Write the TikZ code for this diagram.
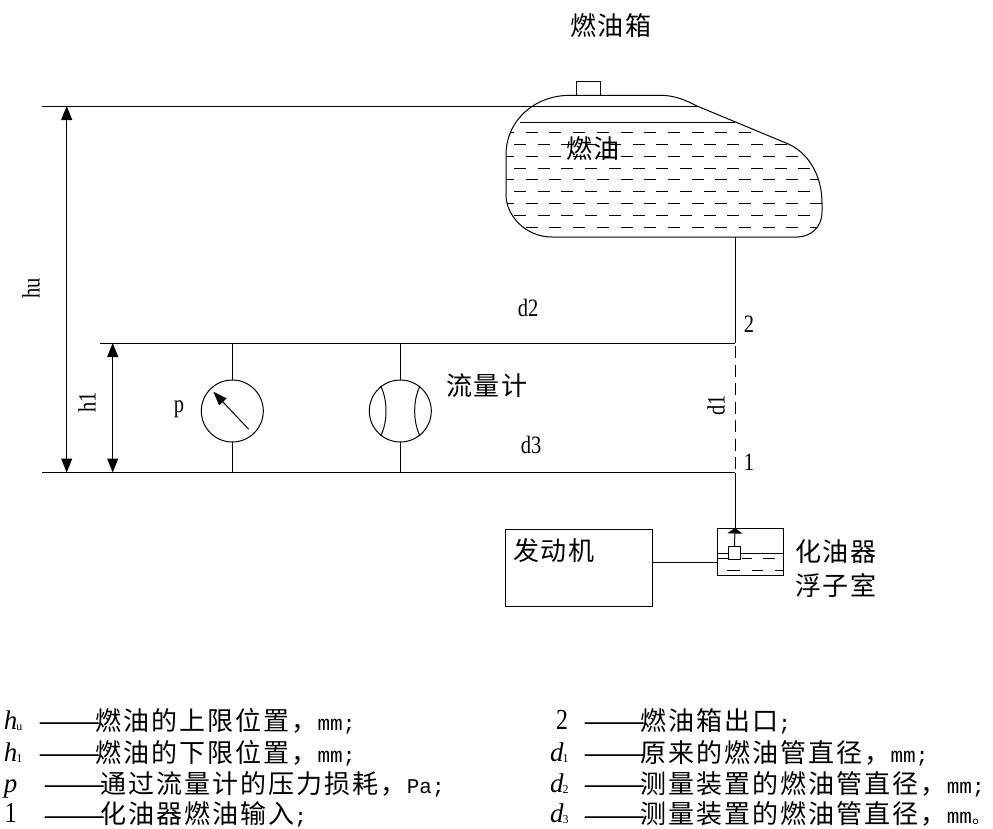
\documentclass[tikz,border=0pt]{standalone}
\usepackage{graphicx}
\usepackage{fontspec}
\setmainfont{Liberation Serif}
\newfontfamily\cjk[LetterSpace=4]{Noto Sans CJK SC}
\newfontfamily\cjkd{Noto Sans CJK SC}
\newfontfamily\cjksp[LetterSpace=8]{Noto Sans CJK SC}
\newfontfamily\hw{Liberation Mono}
\usetikzlibrary{arrows.meta}
\newcommand{\lbl}[1]{{\cjk\fontsize{26}{26}\selectfont #1}}
\newcommand{\lbls}[1]{{\cjksp\fontsize{26}{26}\selectfont #1}}
\newcommand{\ltn}[1]{\scalebox{.82}[1]{\fontsize{25}{25}\selectfont #1}}
\newcommand{\unt}[1]{{\hw\fontsize{21}{21}\selectfont #1}}
\newcommand{\dsh}{\raisebox{-2pt}{\scalebox{1.33}[1]{\cjkd\fontsize{28}{28}\selectfont ——}}}
\newcommand{\symb}[2]{{\fontsize{27}{27}\selectfont\itshape #1}{\kern-1pt\raisebox{-1pt}{\fontsize{12}{12}\selectfont #2}}}
\newcommand{\dig}[1]{\scalebox{.82}[1]{\fontsize{29}{29}\selectfont #1}}
\tikzset{
  base/.style={line width=1pt,black},
  lab/.style={inner sep=0pt,outer sep=0pt},
  leg/.style={inner sep=0pt,outer sep=0pt,anchor=base west},
  dim/.style={base,{Triangle[length=14pt,width=11pt]}-{Triangle[length=14pt,width=11pt]}},
  meter/.style={base,circle,draw,minimum size=62pt,inner sep=0pt,outer sep=0pt},
  boxx/.style={base,rectangle,draw,inner sep=0pt,outer sep=0pt},
  fuel/.style={line width=1pt,dash pattern=on 12pt off 11.7pt}
}
\begin{document}
\begin{tikzpicture}[x=1pt,y=-1pt]
\useasboundingbox (0,0) rectangle (993,828);
% tank
\def\tankpath{(570,95.3) -- (660,95.3) .. controls (675,95.3) and (685,100) .. (697,106) -- (786.7,143.3) .. controls (808,152) and (822,175) .. (822,203) -- (822,212) .. controls (822,228) and (810,237) .. (796.7,237) -- (552,237) .. controls (525,237) and (506,215) .. (506,195) -- (506,155) .. controls (506,120) and (535,95.3) .. (570,95.3) -- cycle}
\begin{scope}
\clip \tankpath;
\foreach \y in {132,156,179.5,203.3,227}{\draw[fuel] (478.3,\y) -- (830,\y);}
\foreach \y in {144,168,191.3,215}{\draw[fuel] (490.3,\y) -- (830,\y);}
\end{scope}
\draw[base] \tankpath;
\node[boxx,minimum width=24pt,minimum height=13.5pt] (cap) at (588,88.3) {};
% named points
\coordinate (topL) at (42,106);
\coordinate (topR) at (697,106);
\coordinate (fuelL) at (520,122);
\coordinate (fuelR) at (735,122);
\coordinate (d2L) at (100,343);
\coordinate (d2R) at (735,343);
\coordinate (d3L) at (42,472.5);
\coordinate (d3R) at (735,472.5);
\coordinate (tankOut) at (735,237);
\coordinate (huTop) at (66.7,106);
\coordinate (huBot) at (66.7,472.5);
\coordinate (hlTop) at (112.7,343);
\coordinate (hlBot) at (112.7,472.5);
\draw[base] (topL) -- (topR);
\draw[base] (fuelL) -- (fuelR);
\draw[base] (d2L) -- (d2R);
\draw[base] (d3L) -- (d3R);
\draw[dim] (huTop) -- (huBot);
\draw[dim] (hlTop) -- (hlBot);
% pipe
\draw[base] (tankOut) -- (d2R);
\draw[base,dash pattern=on 12pt off 6.5pt,dash phase=-3pt] (d2R) -- (d3R);
% meters
\node[meter] (gauge) at (232.3,411) {};
\node[meter] (flow) at (400.3,411) {};
\coordinate (gT) at (232.3,343); \coordinate (gB) at (232.3,472.5);
\coordinate (fT) at (400.3,343); \coordinate (fB) at (400.3,472.5);
\draw[base] (gT) -- (gauge.north);
\draw[base] (gauge.south) -- (gB);
\draw[base] (fT) -- (flow.north);
\draw[base] (flow.south) -- (fB);
\coordinate (ndA) at (248.7,429.3);
\coordinate (ndB) at (213.3,391.7);
\draw[base,-{Triangle[length=14pt,width=10pt]}] (ndA) -- (ndB);
\draw[base] (380.7,386) .. controls (384.5,394) and (386,402) .. (386,411) .. controls (386,420) and (384.5,428) .. (380.7,436);
\draw[base] (420,386) .. controls (416.2,394) and (414.7,402) .. (414.7,411) .. controls (414.7,420) and (416.2,428) .. (420,436);
% engine and carburettor
\node[boxx,minimum width=146.7pt,minimum height=77pt] (engine) at (579.3,567.5) {};
\node[boxx,minimum width=66.7pt,minimum height=47.7pt] (carb) at (750.6,551.9) {};
\node[boxx,minimum width=12.4pt,minimum height=13pt] (float) at (734.5,552.5) {};
\coordinate (apex) at (735,528);
\coordinate (engOut) at (652.7,562);
\coordinate (carbIn) at (717.3,562);
\draw[base] (engOut) -- (carbIn);
\draw[base] (d3R) -- (apex);
\draw[base,-{Triangle[length=5.5pt,width=15pt]}] (float.north) -- (apex);
\coordinate (lvA) at (717.3,553); \coordinate (lvB) at (728.3,553);
\coordinate (lvC) at (740.7,553); \coordinate (lvD) at (784,553);
\draw[base] (lvA) -- (lvB);
\draw[base] (lvC) -- (lvD);
\coordinate (lwA) at (717.3,558); \coordinate (lwB) at (728.3,558);
\draw[base] (lwA) -- (lwB);
\draw[base] (741.7,558) -- (751.7,558);
\draw[base] (763,558) -- (775,558);
\draw[base] (727,570) -- (740,570);
\draw[base] (752,570) -- (763,570);
\draw[base] (775,570) -- (784,570);
% labels
\node[lab] (t1) at (611,26) {\lbl{燃油箱}};
\node[lab] (t2) at (593,149) {\lbl{燃油}};
\node[lab] (t3) at (487,386) {\lbl{流量计}};
\node[lab] (t4) at (554,551) {\lbl{发动机}};
\node[lab] (t5) at (836,552) {\lbl{化油器}};
\node[lab] (t6) at (836,585) {\lbl{浮子室}};
\node[lab] (n2) at (749,324) {\ltn{2}};
\node[lab] (n1) at (749,462) {\ltn{1}};
\node[lab] (d2) at (528,308) {\ltn{d2}};
\node[lab] (d3) at (531,445) {\ltn{d3}};
\node[lab,rotate=90] (d1) at (716,405) {\ltn{d1}};
\node[lab,rotate=90] (hu) at (31,288) {\ltn{hu}};
\node[lab,rotate=90] (hl) at (87,402) {\ltn{h1}};
\node[lab] (pp) at (179,409) {\ltn{p}};
% legend left
\node[leg] (a1) at (4,729) {\symb{h}{u}};
\node[leg] (a2) at (4,761) {\symb{h}{1}};
\node[leg] (a3) at (4,792) {\symb{p}{}};
\node[leg] (a4) at (5,822.5) {\dig{1}};
\node[leg] (b1) at (38,729) {\dsh};
\node[leg] (b2) at (38,761) {\dsh};
\node[leg] (b3) at (43,792) {\dsh};
\node[leg] (b4) at (43,823) {\dsh};
\node[leg] (c1) at (95,730.5) {\lbls{燃油的上限位置，}\unt{mm;}};
\node[leg] (c2) at (95,762.5) {\lbls{燃油的下限位置，}\unt{mm;}};
\node[leg] (c3) at (100,793.5) {\lbls{通过流量计的压力损耗，}\unt{Pa;}};
\node[leg] (c4) at (100,823.5) {\lbls{化油器燃油输入}\unt{;}};
% legend right
\node[leg] (e1) at (556,729) {\dig{2}};
\node[leg] (e2) at (550,761) {\symb{d}{1}};
\node[leg] (e3) at (550,792) {\symb{d}{2}};
\node[leg] (e4) at (550,822.5) {\symb{d}{3}};
\node[leg] (f1) at (583,729) {\dsh};
\node[leg] (f2) at (583,761) {\dsh};
\node[leg] (f3) at (583,792) {\dsh};
\node[leg] (f4) at (583,823) {\dsh};
\node[leg] (g1) at (640,730.5) {\lbls{燃油箱出口}\unt{;}};
\node[leg] (g2) at (640,762.5) {\lbls{原来的燃油管直径，}\unt{mm;}};
\node[leg] (g3) at (640,793.5) {\lbls{测量装置的燃油管直径，}\unt{mm;}};
\node[leg] (g4) at (640,823.5) {\lbls{测量装置的燃油管直径，}\unt{mm}{\cjkd\fontsize{18}{18}\selectfont 。}};
\end{tikzpicture}
\end{document}
